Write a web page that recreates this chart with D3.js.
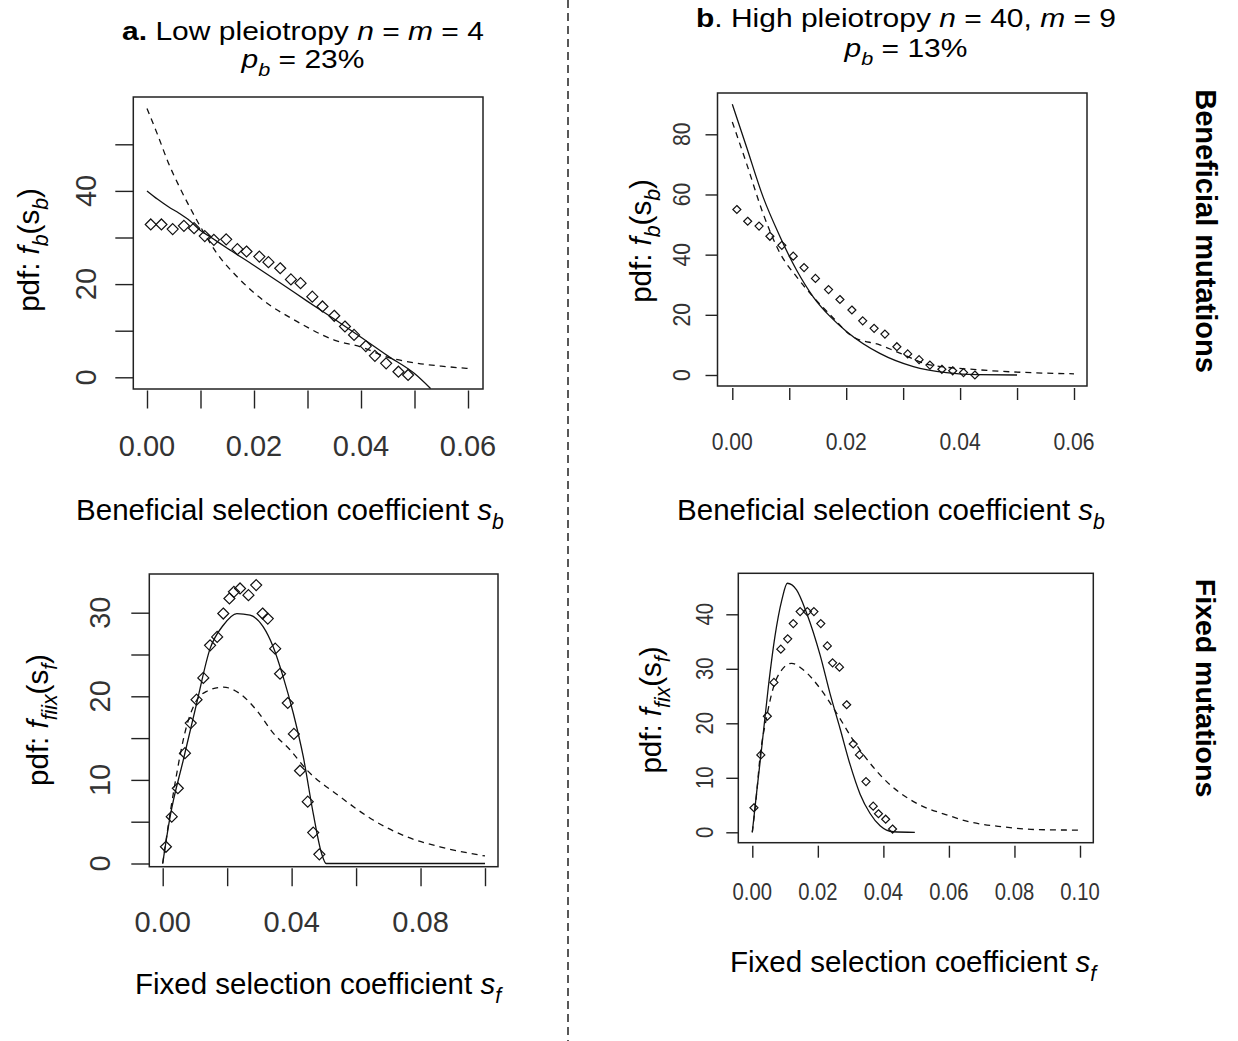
<!DOCTYPE html>
<html><head><meta charset="utf-8">
<script src="https://cdn.jsdelivr.net/npm/d3@7"></script>
<style>
html,body{margin:0;padding:0;background:#fff;}
svg text{font-family:"Liberation Sans",Arial,Helvetica,sans-serif;white-space:pre;fill:#000;}
</style></head>
<body><svg id="fig" width="1238" height="1041"></svg>
<script>
// ---------- DATA ----------
// Panel a (top): beneficial, low pleiotropy
const aObsS = [0.0007,0.0027,0.0048,0.0069,0.0088,0.0108,0.0125,0.0148,0.0169,0.0186,0.0210,0.0227,0.0249,0.0269,0.0287,0.0309,0.0328,0.0350,0.0370,0.0387,0.0409,0.0426,0.0447,0.0470,0.0488];
const aObsV = [32.8,32.8,31.8,32.5,32.0,30.3,29.5,29.6,27.5,27.0,25.9,24.7,23.4,21.0,20.2,17.3,15.2,13.2,10.9,9.1,6.7,4.6,3.0,1.2,0.5];
const aSolidS = [0,0.002,0.004,0.006,0.008,0.010,0.012,0.015,0.020,0.025,0.030,0.035,0.040,0.045,0.050,0.053];
const aSolidV = [40,38.2,36.6,35.2,33.6,31.5,30.0,27.7,24.0,20.2,16.3,12.5,8.6,4.6,0.8,-2.4];
const aDashS = [0,0.002,0.004,0.006,0.008,0.010,0.013,0.017,0.022,0.028,0.035,0.040,0.045,0.050,0.055,0.060];
const aDashV = [57.7,52.0,46.0,41.0,36.5,32.3,26.7,21.4,16.3,12.0,8.0,6.5,4.3,3.1,2.4,1.9];
// Panel b (top): beneficial, high pleiotropy
const bObsS = [0.0008,0.0027,0.0047,0.0066,0.0087,0.0107,0.0126,0.0146,0.0169,0.0189,0.0210,0.0229,0.0249,0.0268,0.0289,0.0308,0.0328,0.0347,0.0368,0.0387,0.0406,0.0426];
const bObsV = [55.0,51.1,49.5,46.1,43.1,39.5,35.7,32.1,28.4,25.1,21.6,18.0,15.5,13.6,9.4,7.0,5.1,3.3,1.9,1.4,0.8,0.0];
const bSolidS = [0,0.0025,0.0054,0.0084,0.0113,0.0142,0.0172,0.0201,0.0259,0.0318,0.0376,0.043,0.050];
const bSolidV = [90,75.8,59.2,45.9,34.8,26.0,19.4,14.4,7.2,2.8,0.8,0.1,0];
const bDashS = [0,0.0025,0.0054,0.0084,0.0113,0.0142,0.0172,0.0212,0.0259,0.0289,0.0347,0.0435,0.0552,0.060];
const bDashV = [84.1,70.3,53.7,40.4,32.6,26.0,20.0,12.7,10.0,7.7,3.4,1.7,0.6,0.4];
// Panel a (bottom): fixed, low pleiotropy
const cObsS = [0.0010,0.0028,0.0047,0.0069,0.0087,0.0105,0.0126,0.0147,0.0169,0.0188,0.0207,0.0221,0.0240,0.0266,0.0290,0.0310,0.0326,0.0349,0.0364,0.0388,0.0407,0.0426,0.0450,0.0467,0.0486];
const cObsV = [2.0,5.6,9.0,13.2,16.8,19.6,22.2,26.1,27.1,29.9,31.7,32.5,32.9,32.1,33.3,29.9,29.3,25.7,22.7,19.2,15.5,11.1,7.4,3.7,1.1];
const cSolidS = [0,0.0023,0.0064,0.0105,0.0147,0.0188,0.0230,0.0271,0.0312,0.0343,0.0374,0.0405,0.0436,0.0467,0.0493,0.0507,0.100];
const cSolidV = [0,5.6,12.4,19.1,25.7,28.5,29.9,29.7,28.3,25.9,22.3,18.0,12.8,6.0,1.2,0,0];
const cDashS = [0,0.0033,0.0074,0.0105,0.0137,0.0188,0.024,0.0292,0.0343,0.0395,0.0447,0.055,0.0653,0.0757,0.086,0.100];
const cDashV = [0,8.4,16.4,19.5,20.6,21.1,20.3,18.3,15.6,13.6,11.2,8.0,5.2,3.2,2.0,0.9];
// Panel b (bottom): fixed, high pleiotropy
const dObsS = [0.0005,0.0026,0.0046,0.0066,0.0087,0.0108,0.0125,0.0146,0.0168,0.0188,0.0209,0.0229,0.0245,0.0266,0.0288,0.0308,0.0327,0.0347,0.0369,0.0385,0.0407,0.0428];
const dObsV = [4.5,14.2,21.3,27.5,33.6,35.5,38.3,40.5,40.5,40.5,38.3,34.2,31.1,30.3,23.4,16.2,14.2,9.3,4.8,3.4,2.4,0.6];
const dSolidS = [0,0.0013,0.0029,0.0049,0.0069,0.009,0.0107,0.0135,0.0166,0.0207,0.0237,0.0268,0.0298,0.0329,0.0359,0.039,0.043,0.0496];
const dSolidV = [0,7.2,15.7,26.7,35.9,42.6,45.7,44.5,40.2,32.5,25.5,19.0,12.5,7.0,3.5,1.2,0.1,0];
const dDashS = [0,0.0013,0.0023,0.0044,0.0064,0.0090,0.012,0.0156,0.0207,0.0258,0.0308,0.0359,0.041,0.0461,0.0512,0.0593,0.0664,0.0766,0.0868,0.100];
const dDashV = [0,7.0,13.5,21.2,26.5,29.8,31.0,29.8,26.4,21.8,16.9,12.7,9.3,6.8,5.0,3.2,1.9,1.0,0.5,0.4];

// tick values and labels
const aXTicks = [0,0.01,0.02,0.03,0.04,0.05,0.06], aXLabels = [0,0.02,0.04,0.06];
const aYTicks = [0,10,20,30,40,50], aYLabels = [0,20,40];
const bXTicks = [0,0.01,0.02,0.03,0.04,0.05,0.06], bXLabels = [0,0.02,0.04,0.06];
const bYTicks = [0,20,40,60,80], bYLabels = [0,20,40,60,80];
const cXTicks = [0,0.02,0.04,0.06,0.08,0.10], cXLabels = [0,0.04,0.08];
const cYTicks = [0,5,10,15,20,25,30], cYLabels = [0,10,20,30];
const dXTicks = [0,0.02,0.04,0.06,0.08,0.10], dXLabels = [0,0.02,0.04,0.06,0.08,0.10];
const dYTicks = [0,10,20,30,40], dYLabels = [0,10,20,30,40];

// ---------- DRAW ----------
const svg = d3.select('#fig');
svg.append('rect').attr('width',1238).attr('height',1041).attr('fill','#fff');

function rich(g, x, y, segs, o){
  const t = g.append('text').attr('x',x).attr('y',y)
    .attr('text-anchor', o.anchor||'middle').attr('font-size', o.size);
  let tr = '';
  if (o.rotate) tr += `rotate(${o.rotate},${x},${y})`;
  if (o.sy) tr += ` translate(0,${y}) scale(1,${o.sy}) translate(0,${-y})`;
  if (tr) t.attr('transform', tr);
  if (o.bold) t.attr('font-weight','bold');
  let shift = 0;
  segs.forEach(s=>{
    const ts = t.append('tspan').text(s.t);
    if (s.i) ts.attr('font-style','italic');
    if (s.b) ts.attr('font-weight','bold');
    const target = s.sub ? o.size*0.32 : 0;
    if (target !== shift){ ts.attr('dy', target-shift); shift = target; }
    if (s.sub) ts.attr('font-size', o.size*0.72);
  });
  return t;
}

let clipId = 0;
function panel(cfg){
  const g = svg.append('g');
  const x = d3.scaleLinear().domain(cfg.xDom).range(cfg.xRange);
  const y = d3.scaleLinear().domain(cfg.yDom).range(cfg.yRange);
  const b = cfg.box;
  const id = 'clip'+(clipId++);
  svg.append('clipPath').attr('id',id).append('rect')
    .attr('x',b[0]).attr('y',b[1]).attr('width',b[2]-b[0]).attr('height',b[3]-b[1]);
  // axes
  const xa = d3.axisBottom(x).tickValues(cfg.xTicks).tickSize(cfg.tick).tickFormat('');
  const gx = g.append('g').attr('transform',`translate(0,${b[3]+cfg.gap})`).call(xa);
  const ya = d3.axisLeft(y).tickValues(cfg.yTicks).tickSize(cfg.tick).tickFormat('');
  const gy = g.append('g').attr('transform',`translate(${b[0]},0)`).call(ya);
  [gx,gy].forEach(a=>{ a.select('.domain').remove(); a.selectAll('line').attr('stroke','#222').attr('stroke-width',1.4); });
  // tick labels
  g.selectAll(null).data(cfg.xLabels).enter().append('text')
    .attr('x',d=>x(d)).attr('y',cfg.xLabY).attr('text-anchor','middle')
    .attr('font-size',cfg.tickFont).style('fill','#333')
    .attr('transform',d=> cfg.sx ? `translate(${x(d)},0) scale(${cfg.sx},1) translate(${-x(d)},0)` : null)
    .text(d=>d3.format('.2f')(d));
  g.selectAll(null).data(cfg.yLabels).enter().append('text')
    .attr('x',cfg.yLabX).attr('y',d=>y(d)).attr('text-anchor','middle').attr('dy','0.35em')
    .attr('font-size',cfg.tickFont).style('fill','#333')
    .attr('transform',d=>`rotate(-90,${cfg.yLabX},${y(d)})` + (cfg.sx ? ` translate(${cfg.yLabX},${y(d)}) scale(${cfg.sx},1) translate(${-cfg.yLabX},${-y(d)})` : ''))
    .text(d=>d);
  // box
  g.append('rect').attr('x',b[0]).attr('y',b[1]).attr('width',b[2]-b[0]).attr('height',b[3]-b[1])
    .attr('fill','none').attr('stroke','#222').attr('stroke-width',1.5);
  const pg = g.append('g').attr('clip-path',`url(#${id})`);
  const line = d3.line().x(d=>x(d[0])).y(d=>y(d[1])).curve(d3.curveMonotoneX);
  pg.append('path').datum(d3.zip(cfg.dashS,cfg.dashV)).attr('d',line)
    .attr('fill','none').attr('stroke','#111').attr('stroke-width',1.3).attr('stroke-dasharray','6,5');
  pg.append('path').datum(d3.zip(cfg.solidS,cfg.solidV)).attr('d',line)
    .attr('fill','none').attr('stroke','#111').attr('stroke-width',1.3);
  const r = cfg.dia;
  pg.selectAll(null).data(d3.zip(cfg.obsS,cfg.obsV)).enter().append('path')
    .attr('d',d=>{const cx=x(d[0]), cy=y(d[1]); return `M${cx},${cy-r}L${cx+r},${cy}L${cx},${cy+r}L${cx-r},${cy}Z`;})
    .attr('fill','none').attr('stroke','#111').attr('stroke-width',1.2);
  return g;
}

panel({xDom:[0,0.06], xRange:[147,468], yDom:[0,50], yRange:[377.3,144.3], box:[133.3,97,483,389],
  xTicks:aXTicks, xLabels:aXLabels, yTicks:aYTicks, yLabels:aYLabels, tick:18, gap:1.5,
  xLabY:456, yLabX:86, tickFont:29, dia:5.5,
  obsS:aObsS, obsV:aObsV, solidS:aSolidS, solidV:aSolidV, dashS:aDashS, dashV:aDashV});
panel({xDom:[0,0.06], xRange:[732.3,1074], yDom:[0,80], yRange:[375,134.3], box:[717.5,93,1087,386],
  xTicks:bXTicks, xLabels:bXLabels, yTicks:bYTicks, yLabels:bYLabels, tick:12, gap:2,
  xLabY:450, yLabX:682, tickFont:24, sx:0.88, dia:4,
  obsS:bObsS, obsV:bObsV, solidS:bSolidS, solidV:bSolidV, dashS:bDashS, dashV:bDashV});
panel({xDom:[0,0.10], xRange:[162.7,485], yDom:[0,30], yRange:[863.5,612.7], box:[149.3,574,498,866.7],
  xTicks:cXTicks, xLabels:cXLabels, yTicks:cYTicks, yLabels:cYLabels, tick:18, gap:1.5,
  xLabY:932, yLabX:100, tickFont:29, dia:5.5,
  obsS:cObsS, obsV:cObsV, solidS:cSolidS, solidV:cSolidV, dashS:cDashS, dashV:cDashV});
panel({xDom:[0,0.10], xRange:[752.3,1080], yDom:[0,40], yRange:[832.3,614.3], box:[738.3,573.3,1093.3,842.7],
  xTicks:dXTicks, xLabels:dXLabels, yTicks:dYTicks, yLabels:dYLabels, tick:12, gap:3,
  xLabY:900, yLabX:705, tickFont:23, sx:0.88, dia:4,
  obsS:dObsS, obsV:dObsV, solidS:dSolidS, solidV:dSolidV, dashS:dDashS, dashV:dDashV});

// titles (slightly flattened to match the reference's wide, short lettering)
const T = svg.append('g');
rich(T, 303, 40, [{t:'a.',b:true},{t:' Low pleiotropy '},{t:'n',i:true},{t:' = '},{t:'m',i:true},{t:' = 4'}], {size:30, sy:0.86});
rich(T, 303, 68, [{t:'p',i:true},{t:'b',i:true,sub:true},{t:' = 23%'}], {size:30, sy:0.86});
rich(T, 906, 27, [{t:'b',b:true},{t:'. High pleiotropy '},{t:'n',i:true},{t:' = 40, '},{t:'m',i:true},{t:' = 9'}], {size:30, sy:0.86});
rich(T, 906, 57, [{t:'p',i:true},{t:'b',i:true,sub:true},{t:' = 13%'}], {size:30, sy:0.86});

// x titles
const xt = (cx,cy,label,sub)=> rich(T, cx, cy, [{t:label+' '},{t:'s',i:true},{t:sub,i:true,sub:true}], {size:29.5});
xt(290, 520, 'Beneficial selection coefficient', 'b');
xt(891, 520, 'Beneficial selection coefficient', 'b');
xt(318, 994, 'Fixed selection coefficient', 'f');
xt(913, 972, 'Fixed selection coefficient', 'f');

// y titles
rich(T, 39, 250, [{t:'pdf: '},{t:'f',i:true},{t:'b',i:true,sub:true},{t:'(s'},{t:'b',i:true,sub:true},{t:')'}], {size:29.5, rotate:-90});
rich(T, 651, 241, [{t:'pdf: '},{t:'f',i:true},{t:'b',i:true,sub:true},{t:'(s'},{t:'b',i:true,sub:true},{t:')'}], {size:29.5, rotate:-90});
rich(T, 48, 720, [{t:'pdf: '},{t:'f',i:true},{t:'fiix',i:true,sub:true},{t:'(s'},{t:'f',i:true,sub:true},{t:')'}], {size:29.5, rotate:-90});
rich(T, 661, 710, [{t:'pdf: '},{t:'f',i:true},{t:'fix',i:true,sub:true},{t:'(s'},{t:'f',i:true,sub:true},{t:')'}], {size:29.5, rotate:-90});

// row labels
rich(T, 1196, 231, [{t:'Beneficial mutations'}], {size:29, rotate:90, bold:true});
rich(T, 1196, 688, [{t:'Fixed mutations'}], {size:28.5, rotate:90, bold:true});

// divider
svg.append('line').attr('x1',568).attr('x2',568).attr('y1',0).attr('y2',1041)
  .attr('stroke','#222').attr('stroke-width',1.5).attr('stroke-dasharray','8,5');
</script></body></html>
